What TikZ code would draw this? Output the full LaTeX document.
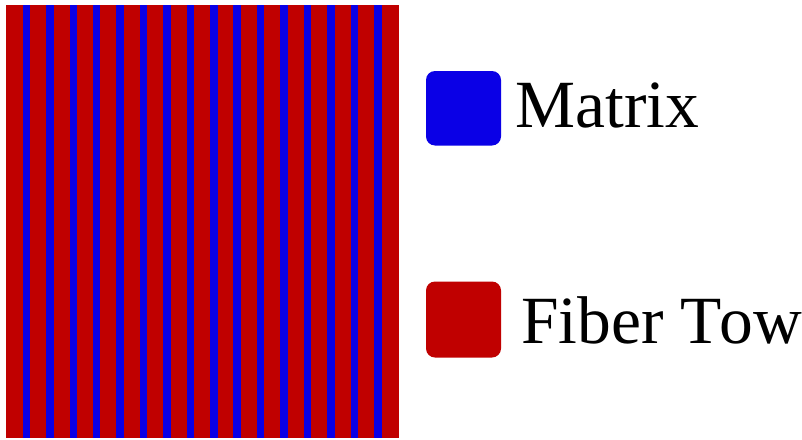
\documentclass[tikz,border=0pt]{standalone}
\usepackage{fontspec}
\setmainfont{Liberation Serif}
\definecolor{matblue}{RGB}{10,0,230}
\definecolor{fibred}{RGB}{192,0,0}
\begin{document}
\begin{tikzpicture}[x=1pt,y=-1pt,
  swatch/.style={rounded corners=9pt},
  legtext/.style={anchor=base west,inner sep=0pt,font=\fontsize{67.5pt}{70pt}\selectfont}]
\useasboundingbox[fill=white] (0,0) rectangle (802,439);
\fill[fibred] (6,5) rectangle (399,438);
\foreach \i in {0,...,15} {
  \fill[matblue] ({22.7+\i*23.42},5) rectangle ({30.2+\i*23.42},438);
}
\fill[matblue,swatch] (426,71) rectangle (501,145.5);
\fill[fibred,swatch] (426,281.5) rectangle (501,357.5);
\node[legtext] (matrix) at (515.5,127.3) {Matrix};
\node[legtext] (fiber) at (521,343.3) {Fiber T\kern-2pt ow};
\end{tikzpicture}
\end{document}
